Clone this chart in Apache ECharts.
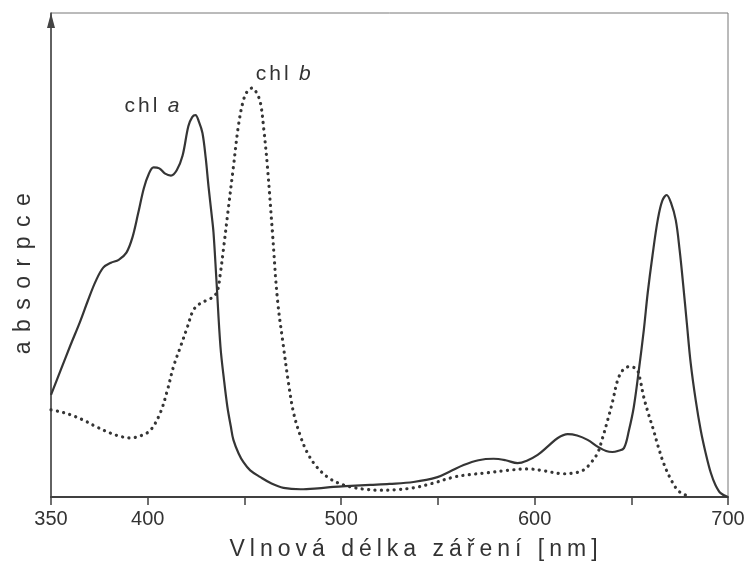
<!DOCTYPE html>
<html>
<head>
<meta charset="utf-8">
<title>Absorpční spektra chlorofylu a a b</title>
<script src="https://cdn.jsdelivr.net/npm/echarts@6/dist/echarts.min.js"></script>
<style>
  html, body { margin: 0; padding: 0; background: #fff; }
  #chart { width: 752px; height: 578px; }
</style>
</head>
<body>
<div id="chart"></div>
<script>
// Wavelength axis (nm): labelled ticks; unlabelled ticks sit halfway between.
const labelledTicks = [350, 400, 500, 600, 700];

// Chlorophyll a absorption (relative units)
const chlAWavelength = [
  350, 355, 360, 365, 369, 373, 377, 381, 385, 389, 392, 395, 398, 400.5, 403, 406, 409, 412,
  415, 418, 421, 423, 424.7, 426.5, 428.3, 430, 431.4, 433, 434, 435.5, 437.6, 439.5, 441.2,
  443, 444.3, 447, 449.5, 453, 458.3, 464, 470.2, 479, 488, 496, 505, 515, 525, 537.4, 549.8,
  556, 563.3, 571, 578.8, 585, 591.2, 596, 601.6, 607, 612, 617.1, 622, 627.4, 633, 637,
  640.2, 643, 646.2, 648.8, 651.3, 654, 656.5, 658.5, 661, 663.7, 666, 668.3, 670.5, 673,
  675, 676.8, 678.7, 680.7, 683.3, 685.9, 688.5, 691.1, 693.5, 696.2, 700
];
const chlAAbsorbance = [
  0.211, 0.262, 0.313, 0.362, 0.405, 0.445, 0.474, 0.484, 0.490, 0.505, 0.535, 0.585, 0.638, 0.667, 0.681, 0.679, 0.668, 0.664,
  0.675, 0.705, 0.766, 0.785, 0.789, 0.775, 0.752, 0.700, 0.643, 0.585, 0.547, 0.450, 0.311, 0.240, 0.186,
  0.145, 0.118, 0.090, 0.072, 0.055, 0.041, 0.028, 0.019, 0.016, 0.018, 0.021, 0.023, 0.025, 0.027, 0.031, 0.041,
  0.052, 0.066, 0.076, 0.079, 0.076, 0.070, 0.075, 0.087, 0.105, 0.122, 0.130, 0.127, 0.118, 0.103, 0.095,
  0.093, 0.095, 0.101, 0.138, 0.186, 0.265, 0.346, 0.422, 0.500, 0.573, 0.612, 0.624, 0.608, 0.572,
  0.510, 0.440, 0.360, 0.277, 0.200, 0.138, 0.090, 0.050, 0.025, 0.008, 0.000
];

// Chlorophyll b absorption (relative units)
const chlBWavelength = [
  350, 355, 360, 366.7, 373, 380.7, 386, 391, 396, 401.4, 406.5, 410.2, 413.3, 416.9, 420.5,
  423.6, 427.2, 430.9, 434, 436, 437.5, 439.1, 441.5, 444.3, 447, 449.5, 451.8, 454.1, 456.3,
  458.3, 460, 461.9, 464.5, 467.1, 470.2, 472.8, 475.4, 479, 482.6, 487, 493, 499, 504.8, 512,
  520.3, 528, 537.4, 547, 558.1, 566, 575.7, 586, 596.4, 605, 615, 621, 625.4, 629, 632.6,
  635, 637.8, 640.5, 643, 645.8, 648.6, 651, 653.2, 654.8, 656.4, 659, 661.5, 664, 666.7,
  670, 674, 678, 681
];
const chlBAbsorbance = [
  0.180, 0.176, 0.170, 0.159, 0.146, 0.132, 0.125, 0.122, 0.126, 0.138, 0.174, 0.221, 0.269, 0.310, 0.351,
  0.386, 0.400, 0.407, 0.414, 0.425, 0.460, 0.510, 0.590, 0.682, 0.770, 0.820, 0.840, 0.845, 0.835,
  0.814, 0.760, 0.682, 0.545, 0.407, 0.310, 0.235, 0.174, 0.125, 0.091, 0.064, 0.041, 0.028, 0.021, 0.016,
  0.014, 0.015, 0.019, 0.028, 0.041, 0.046, 0.050, 0.055, 0.058, 0.054, 0.048, 0.050, 0.056, 0.070, 0.091,
  0.120, 0.159, 0.200, 0.242, 0.263, 0.269, 0.268, 0.262, 0.238, 0.207, 0.170, 0.138, 0.103, 0.070,
  0.040, 0.014, 0.004, 0.000
];

// Curve name tags, placed in data space (wavelength, absorbance)
const chlATagAt = [403.4, 0.808];
const chlBTagAt = [471.2, 0.874];

const xTitle = 'Vlnová délka záření [nm]';
const yTitle = 'absorpce';
const tagStem = 'chl';

// Wide tracking for the axis titles and the curve tags (canvas letterSpacing where
// supported); the context state is saved/restored so no other text inherits it.
const tracking = { [xTitle]: 5, [yTitle]: 9.5, [tagStem]: 3 };
const nativeFillText = CanvasRenderingContext2D.prototype.fillText;
CanvasRenderingContext2D.prototype.fillText = function (text) {
  const spacing = tracking[text];
  if (spacing && 'letterSpacing' in this) {
    this.save();
    this.letterSpacing = spacing + 'px';
    const out = nativeFillText.apply(this, arguments);
    this.restore();
    return out;
  }
  return nativeFillText.apply(this, arguments);
};

const pairs = (xs, ys) => xs.map((x, i) => [x, ys[i]]);
const ink = '#333333';
const font = '"Liberation Sans", Arial, Helvetica, sans-serif';

function tag(coord, letter) {
  return {
    silent: true,
    symbol: 'circle',
    symbolSize: 0,
    label: {
      show: true,
      position: 'inside',
      formatter: '{n|' + tagStem + '}{i| ' + letter + '}',
      rich: {
        // right padding makes room for the tracked stem
        n: { fontFamily: font, fontSize: 21, color: ink, padding: [0, 6, 0, 0] },
        i: { fontFamily: font, fontSize: 21, fontStyle: 'italic', color: ink }
      }
    },
    data: [{ coord: coord }]
  };
}

const chart = echarts.init(document.getElementById('chart'), null, { renderer: 'canvas' });
chart.setOption({
  animation: false,
  backgroundColor: '#ffffff',
  grid: {
    left: 51, right: 24, top: 13, bottom: 81,
    show: true, borderColor: '#777777', borderWidth: 1, backgroundColor: 'transparent'
  },
  xAxis: {
    type: 'value',
    min: 350, max: 700, interval: 50,
    axisLine: { show: true, lineStyle: { color: '#404040', width: 2 } },
    axisTick: { show: true, length: 8, lineStyle: { color: '#404040', width: 1.5 } },
    axisLabel: {
      margin: 12,
      fontFamily: font, fontSize: 20, color: ink,
      formatter: v => (labelledTicks.includes(v) ? String(v) : '')
    },
    splitLine: { show: false }
  },
  yAxis: {
    type: 'value',
    min: 0, max: 1,
    axisLine: {
      show: true,
      symbol: ['none', 'triangle'],
      symbolSize: [8, 15],
      symbolOffset: [0, -7.5],
      lineStyle: { color: '#444444', width: 1.5 }
    },
    axisTick: { show: false },
    axisLabel: { show: false },
    splitLine: { show: false }
  },
  graphic: [
    {
      type: 'text', x: 416, y: 550, silent: true,
      style: {
        text: xTitle, font: '23px ' + font, fill: ink,
        textAlign: 'center', textVerticalAlign: 'middle'
      }
    },
    {
      type: 'text', x: 24, y: 269, rotation: Math.PI / 2, silent: true,
      style: {
        text: yTitle, font: '23px ' + font, fill: ink,
        textAlign: 'center', textVerticalAlign: 'middle'
      }
    }
  ],
  series: [
    {
      name: 'chl a',
      type: 'line',
      data: pairs(chlAWavelength, chlAAbsorbance),
      smooth: 0.35,
      showSymbol: false,
      lineStyle: { color: '#353535', width: 2.2 },
      markPoint: tag(chlATagAt, 'a'),
      z: 3
    },
    {
      name: 'chl b',
      type: 'line',
      data: pairs(chlBWavelength, chlBAbsorbance),
      smooth: 0.35,
      showSymbol: false,
      lineStyle: { color: '#353535', width: 3.2, type: [0.1, 6.3], cap: 'round' },
      markPoint: tag(chlBTagAt, 'b'),
      z: 2
    }
  ]
});
</script>
</body>
</html>
